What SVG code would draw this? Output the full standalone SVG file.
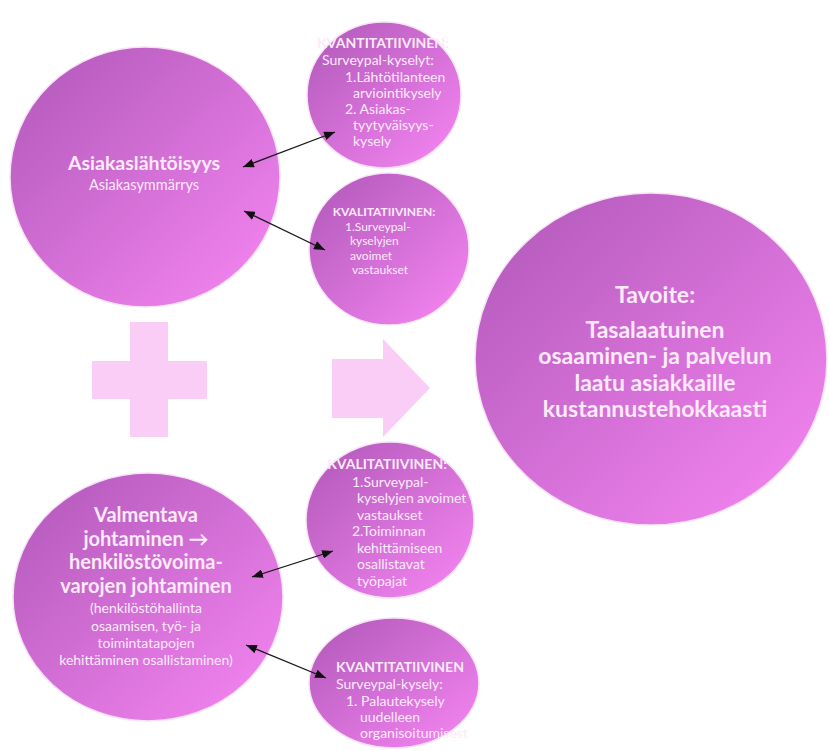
<svg xmlns="http://www.w3.org/2000/svg" width="830" height="751" viewBox="0 0 830 751">
  <defs>
    <linearGradient id="bubble" x1="0" y1="0" x2="1" y2="1">
      <stop offset="0" stop-color="#b057b8"/>
      <stop offset="0.5" stop-color="#d36fd6"/>
      <stop offset="1" stop-color="#f887f3"/>
    </linearGradient>
    <marker id="head" viewBox="0 0 10 8" refX="10" refY="4" markerWidth="11" markerHeight="9" markerUnits="userSpaceOnUse" orient="auto-start-reverse">
      <path d="M0,0 L10,4 L0,8 Z" fill="#111"/>
    </marker>
    <style>
      .bubble { fill: url(#bubble); stroke: #f7e3f6; stroke-width: 1.5; }
      .deco { fill: #f9cdf6; }
      text { font-family: Lato, "Open Sans", "Liberation Sans", sans-serif; fill: #fdeafb; }
      .b { font-weight: bold; }
      .s { font-size: 14px; }
      .t { font-size: 12px; }
      .m { font-size: 14px; }
      .l { font-size: 20px; }
      .xl { font-size: 23px; }
      .c { text-anchor: middle; }
      .link { stroke: #1a1a1a; stroke-width: 1.3; fill: none; marker-start: url(#head); marker-end: url(#head); }
    </style>
  </defs>
  <rect width="830" height="751" fill="#ffffff"/>

  <!-- plus sign and forward arrow -->
  <g id="plus">
    <path class="deco" d="M130,322 H168 V361 H207 V399 H168 V437 H130 V399 H92 V361 H130 Z"/>
  </g>
  <g id="arrow">
    <path class="deco" d="M332,359 H383 V339 L430,388 L383,437 V418 H332 Z"/>
  </g>

  <g id="customer">
    <ellipse class="bubble" cx="145" cy="177" rx="135" ry="130"/>
    <text class="b c" x="144" y="170" font-size="19.5">Asiakaslähtöisyys</text>
    <text class="c" x="144" y="190" font-size="14.5">Asiakasymmärrys</text>
  </g>

  <g id="quant-top">
    <ellipse class="bubble" cx="384" cy="95" rx="77" ry="73"/>
    <text class="s b c" x="383" y="48">KVANTITATIIVINEN:</text>
    <text class="s" x="322" y="65">Surveypal-kyselyt:</text>
    <text class="s" x="345" y="82">1.Lähtötilanteen</text>
    <text class="s" x="353" y="98">arviointikysely</text>
    <text class="s" x="345" y="114">2. Asiakas-</text>
    <text class="s" x="353" y="130">tyytyväisyys-</text>
    <text class="s" x="353" y="146">kysely</text>
  </g>

  <g id="qual-top">
    <ellipse class="bubble" cx="389" cy="249" rx="80" ry="76"/>
    <text class="t b c" x="384" y="216">KVALITATIIVINEN:</text>
    <text class="t" x="345" y="230.5">1.Surveypal-</text>
    <text class="t" x="350" y="245">kyselyjen</text>
    <text class="t" x="350" y="259.5">avoimet</text>
    <text class="t" x="352" y="274">vastaukset</text>
  </g>

  <g id="goal">
    <ellipse class="bubble" cx="651" cy="359" rx="176" ry="166"/>
    <text class="xl b c" x="655" y="303">Tavoite:</text>
    <text class="xl b c" x="655" y="338">Tasalaatuinen</text>
    <text class="xl b c" x="655" y="364">osaaminen- ja palvelun</text>
    <text class="xl b c" x="655" y="391">laatu asiakkaille</text>
    <text class="xl b c" x="655" y="417">kustannustehokkaasti</text>
  </g>

  <g id="leadership">
    <ellipse class="bubble" cx="148" cy="597" rx="135" ry="124"/>
    <text class="l b c" x="146" y="522">Valmentava</text>
    <text class="l b c" x="146" y="546">johtaminen →</text>
    <text class="l b c" x="146" y="569">henkilöstövoima-</text>
    <text class="l b c" x="146" y="593">varojen johtaminen</text>
    <text class="m c" x="146" y="613">(henkilöstöhallinta</text>
    <text class="m c" x="146" y="631">osaamisen, työ- ja</text>
    <text class="m c" x="146" y="648">toimintatapojen</text>
    <text class="m c" x="146" y="665">kehittäminen osallistaminen)</text>
  </g>

  <g id="qual-bottom">
    <ellipse class="bubble" cx="390" cy="520" rx="84" ry="78"/>
    <text class="s b c" x="387" y="469">KVALITATIIVINEN:</text>
    <text class="s" x="352" y="487">1.Surveypal-</text>
    <text class="s" x="357" y="503">kyselyjen avoimet</text>
    <text class="s" x="357" y="520">vastaukset</text>
    <text class="s" x="352" y="536">2.Toiminnan</text>
    <text class="s" x="357" y="553">kehittämiseen</text>
    <text class="s" x="357" y="569">osallistavat</text>
    <text class="s" x="357" y="586">työpajat</text>
  </g>

  <g id="quant-bottom">
    <ellipse class="bubble" cx="394" cy="683" rx="85" ry="65"/>
    <text class="s b" x="336" y="672">KVANTITATIIVINEN</text>
    <text class="s" x="336" y="689">Surveypal-kysely:</text>
    <text class="s" x="346" y="706">1. Palautekysely</text>
    <text class="s" x="360" y="722">uudelleen</text>
    <text class="s" x="360" y="738">organisoitumisest</text>
  </g>

  <g id="connectors">
    <line class="link" x1="243" y1="167" x2="335" y2="132"/>
    <line class="link" x1="244" y1="211" x2="325" y2="250"/>
    <line class="link" x1="252" y1="577" x2="333" y2="551"/>
    <line class="link" x1="246" y1="645" x2="326" y2="678"/>
  </g>
</svg>
